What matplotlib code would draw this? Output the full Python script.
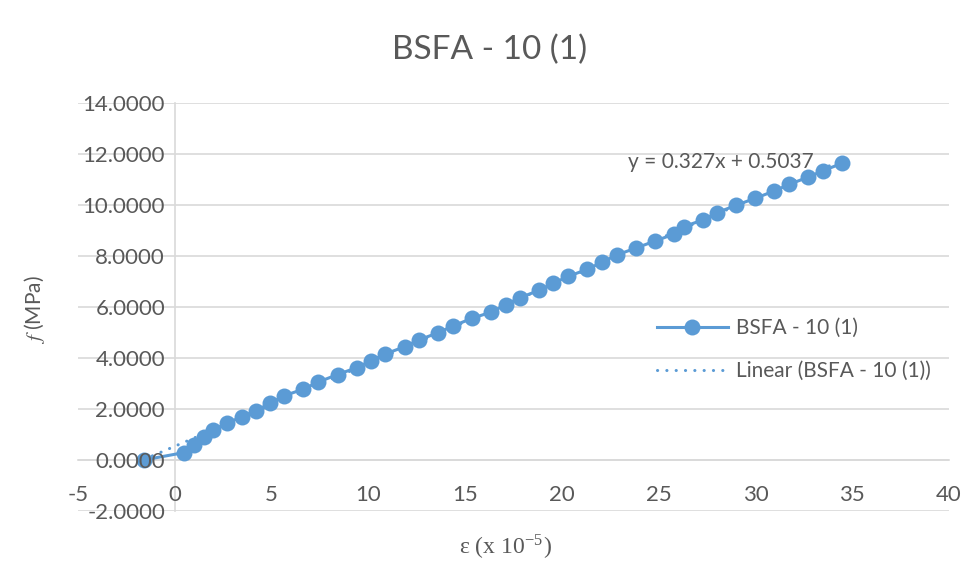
import numpy as np
import matplotlib
matplotlib.use("Agg")
import matplotlib.pyplot as plt

# strain (x 10^-5) and stress (MPa)
strain = [-1.6, 0.47, 0.98, 1.5, 1.97, 2.71, 3.46, 4.18, 4.91, 5.65, 6.65, 7.42,
          8.41, 9.39, 10.14, 10.88, 11.87, 12.61, 13.61, 14.35, 15.34, 16.34,
          17.10, 17.82, 18.81, 19.55, 20.33, 21.31, 22.09, 22.83, 23.82, 24.82,
          25.80, 26.29, 27.27, 28.02, 29.0, 29.98, 30.97, 31.75, 32.71, 33.51, 34.49]
stress = [0.0, 0.29, 0.59, 0.91, 1.18, 1.44, 1.70, 1.93, 2.22, 2.52, 2.78, 3.06,
          3.35, 3.62, 3.89, 4.16, 4.44, 4.71, 4.99, 5.25, 5.55, 5.80,
          6.09, 6.36, 6.65, 6.93, 7.20, 7.48, 7.76, 8.04, 8.31, 8.59,
          8.86, 9.15, 9.41, 9.70, 9.99, 10.26, 10.55, 10.81, 11.09, 11.35, 11.64]
series_name = "BSFA - 10 (1)"
equation = "y = 0.327x + 0.5037"
x_ticks = [-5, 0, 5, 10, 15, 20, 25, 30, 35, 40]
y_ticks = [-2, 0, 2, 4, 6, 8, 10, 12, 14]

blue = "#5B9BD5"
grey_txt = "#595959"
grid_col = "#D9D9D9"

plt.rcParams["font.family"] = ["Lato", "DejaVu Sans"]
plt.rcParams["mathtext.fontset"] = "stix"
plt.rcParams["axes.unicode_minus"] = False

fig = plt.figure(figsize=(9.7, 5.73), dpi=100)
ax = fig.add_axes([78 / 970, 1 - 511 / 573, (949 - 78) / 970, (511 - 103) / 573])

# gridlines drawn by hand so the tick labels can sit above the markers
for v in y_ticks:
    ax.axhline(v, color=grid_col, lw=1.2, zorder=0)

# linear trendline from the data
slope, icept = np.polyfit(strain, stress, 1)
xt = np.array([min(strain), max(strain)])
ax.plot(xt, slope * xt + icept, color=blue, lw=2.2, linestyle=(0, (0.05, 3.0)),
        dash_capstyle="round", zorder=2, label="Linear (" + series_name + ")")

ax.plot(strain, stress, color=blue, lw=2.2, marker="o", markersize=11.5,
        markeredgewidth=0, zorder=3, label=series_name)

ax.set_xlim(-5, 40)
ax.set_ylim(-2, 14)
ax.set_xticks(x_ticks)
ax.set_yticks(y_ticks)
ax.set_yticklabels([f"{v:.4f}" for v in y_ticks])
ax.yaxis.set_zorder(5)

for s in ["top", "right"]:
    ax.spines[s].set_visible(False)
ax.spines["left"].set_position(("data", 0))
ax.spines["bottom"].set_position(("data", 0))
for s in ["left", "bottom"]:
    ax.spines[s].set_color(grid_col)
    ax.spines[s].set_linewidth(1.2)
    ax.spines[s].set_zorder(0.5)
ax.tick_params(axis="y", length=0, pad=7, labelsize=16, labelcolor=grey_txt)
ax.tick_params(axis="x", length=0, pad=18, labelsize=16, labelcolor=grey_txt)

fig.text(721 / 970, 1 - 162 / 573, equation, fontsize=15, color=grey_txt,
         ha="center", va="center")

handles, labels = ax.get_legend_handles_labels()
ax.legend(handles[::-1], labels[::-1], loc="upper left",
          bbox_to_anchor=(657 / 970, 1 - 318 / 573),
          bbox_transform=fig.transFigure, frameon=False, fontsize=15,
          labelcolor=grey_txt, handlelength=3.4, handletextpad=0.4,
          labelspacing=1.1, borderpad=0, borderaxespad=0, markerscale=1.0)

fig.text(490 / 970, 1 - 50 / 573, series_name, fontsize=24, color=grey_txt,
         ha="center", va="center")
fig.text(35 / 970, 1 - 310 / 573, r"$f$ (MPa)", fontsize=15, color=grey_txt,
         rotation=90, ha="center", va="center")
fig.text(505 / 970, 1 - 547 / 573, r"ε (x 10$^{\mathregular{-5}}$)", fontsize=17,
         color=grey_txt, family=["Liberation Serif", "DejaVu Serif"],
         ha="center", va="center")

fig.savefig("out.png", dpi=100)
